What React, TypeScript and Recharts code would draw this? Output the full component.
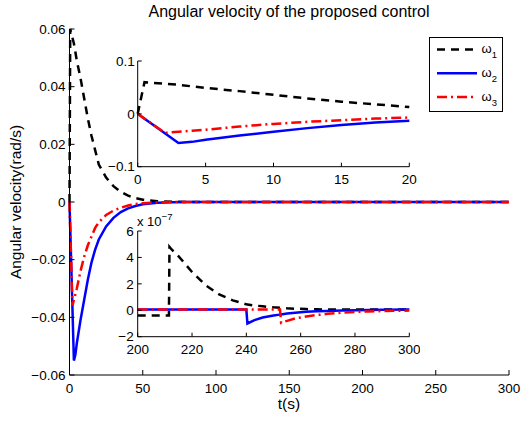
import { LineChart, Line, XAxis, YAxis, Legend, CartesianGrid } from "recharts";

const FONT = "'Liberation Sans', Arial, Helvetica, sans-serif";

// transient part, t in s, omega in rad/s
const tEarly = [0, 0.5, 1, 2, 3, 4, 5, 7.5, 10, 12.5, 15, 17.5, 20, 25, 30, 35, 40, 45, 50, 60, 70, 80, 100];
const w1Early = [0, 0.06, 0.059, 0.057, 0.055, 0.052, 0.049, 0.043, 0.036, 0.029, 0.023, 0.018, 0.013, 0.0085, 0.0055, 0.0035, 0.0022, 0.0014, 0.0008, 0.0003, 0.0001, 0, 0];
const w2Early = [0, -0.0092, -0.0183, -0.0367, -0.055, -0.053, -0.049, -0.041, -0.034, -0.027, -0.021, -0.0165, -0.013, -0.0085, -0.0055, -0.0035, -0.0022, -0.0014, -0.0008, -0.0003, -0.0001, 0, 0];
const w3Early = [0, -0.009, -0.018, -0.036, -0.034, -0.032, -0.03, -0.024, -0.019, -0.015, -0.012, -0.009, -0.007, -0.0045, -0.003, -0.002, -0.0012, -0.0007, -0.0004, -0.0001, 0, 0, 0];

// tail part, values in units of 1e-7 rad/s
const tLate = [200, 211.5, 211.7, 212.5, 215, 220, 225, 230, 235, 240, 240.4, 243, 246, 250, 252.4, 252.8, 255, 258, 262, 266, 270, 275, 280, 285, 290, 300];
const w1Late = [-0.4, -0.4, 4.8, 4.6, 4.1, 2.9, 1.9, 1.2, 0.75, 0.45, 0.44, 0.36, 0.3, 0.22, 0.19, 0.19, 0.15, 0.12, 0.09, 0.07, 0.06, 0.05, 0.05, 0.05, 0.05, 0.05];
const w2Late = [0.05, 0.05, 0.05, 0.05, 0.05, 0.05, 0.05, 0.05, 0.05, 0.05, -1.0, -0.75, -0.55, -0.4, -0.33, -0.32, -0.25, -0.18, -0.11, -0.07, -0.05, -0.02, 0.01, 0.03, 0.04, 0.05];
const w3Late = [0.05, 0.05, 0.05, 0.05, 0.05, 0.05, 0.05, 0.05, 0.05, 0.05, 0.05, 0.05, 0.05, 0.05, 0.05, -0.95, -0.8, -0.62, -0.47, -0.36, -0.27, -0.19, -0.13, -0.09, -0.06, -0.02];
const LATE_SCALE = 1e-7;

const mainXTicks = [0, 50, 100, 150, 200, 250, 300];
const mainYTicks = [-0.06, -0.04, -0.02, 0, 0.02, 0.04, 0.06];
const zoom1XTicks = [0, 5, 10, 15, 20];
const zoom1YTicks = [-0.1, 0, 0.1];
const zoom2XTicks = [200, 220, 240, 260, 280, 300];
const zoom2YTicks = [-2, 0, 2, 4, 6];

const SERIES = [
  { key: "w1", sub: "1", color: "#000000", dash: "8 6" },
  { key: "w2", sub: "2", color: "#0000ff", dash: undefined },
  { key: "w3", sub: "3", color: "#ff0000", dash: "10 4 2 4" },
];

const earlyRows = tEarly.map((t, i) => ({ t, w1: w1Early[i], w2: w2Early[i], w3: w3Early[i] }));
const lateRows = tLate.map((t, i) => ({ t, w1: w1Late[i], w2: w2Late[i], w3: w3Late[i] }));
const mainRows = [
  ...earlyRows,
  ...lateRows.map(r => ({ t: r.t, w1: r.w1 * LATE_SCALE, w2: r.w2 * LATE_SCALE, w3: r.w3 * LATE_SCALE })),
];
const zoom1Rows = earlyRows.filter(r => r.t <= 20);

const fmt = (digits: number) => (v: number) => (v === 0 ? "0" : v.toFixed(digits).replace("-", "\u2212"));
const tickStyle = { fill: "#000", fontSize: 13.5, fontFamily: FONT };

function series() {
  return SERIES.map(s => (
    <Line
      key={s.key}
      dataKey={s.key}
      name={s.key}
      type="linear"
      stroke={s.color}
      strokeWidth={2.5}
      strokeDasharray={s.dash}
      dot={false}
      activeDot={false}
      isAnimationActive={false}
    />
  ));
}

function LegendBox(props: any) {
  const payload = props.payload || [];
  return (
    <div style={{ width: 74, height: 75, border: "1px solid #000", background: "#fff", boxSizing: "border-box" }}>
      <svg width={72} height={73} style={{ display: "block" }}>
        {payload.map((entry: any, i: number) => {
          const s = SERIES.find(x => x.key === entry.dataKey) || SERIES[i];
          const y = 11.5 + i * 23.8;
          return (
            <g key={s.key}>
              <line x1={7} x2={47} y1={y} y2={y} stroke={s.color} strokeWidth={2.5} strokeDasharray={s.dash} />
              <text x={51.5} y={y + 3.5} fontFamily={FONT} fontSize={13} fill="#000">
                ω<tspan dy={5} fontSize={9.5}>{s.sub}</tspan>
              </text>
            </g>
          );
        })}
      </svg>
    </div>
  );
}

export default function App() {
  return (
    <div style={{ position: "absolute", left: 0, top: 0, width: 521, height: 421, background: "#fff", fontFamily: FONT }}>
      <div style={{ position: "absolute", left: 69, width: 440, top: 3, textAlign: "center", fontSize: 16, color: "#000" }}>
        Angular velocity of the proposed control
      </div>
      <div
        style={{
          position: "absolute", left: 16, top: 202, fontSize: 15.5, whiteSpace: "nowrap",
          transform: "translate(-50%, -50%) rotate(-90deg)",
        }}
      >
        Angular velocity(rad/s)
      </div>
      <div style={{ position: "absolute", left: 289, top: 404, transform: "translate(-50%, -50%)", fontSize: 15.5, lineHeight: 1 }}>
        t(s)
      </div>

      <div style={{ position: "absolute", left: 0, top: 0 }}>
        <LineChart width={521} height={421} data={mainRows} margin={{ top: 29, right: 12, bottom: 0, left: 0 }}>
          <XAxis dataKey="t" type="number" domain={[0, 300]} ticks={mainXTicks} interval={0} height={46}
            tickSize={-5} tickMargin={13} stroke="#000" tick={tickStyle} />
          <XAxis xAxisId="top" orientation="top" dataKey="t" type="number" domain={[0, 300]} ticks={mainXTicks}
            interval={0} height={0} tickSize={-5} tick={false} stroke="#000" />
          <YAxis type="number" domain={[-0.06, 0.06]} ticks={mainYTicks} interval={0} width={69.5}
            tickSize={-5} tickMargin={9} stroke="#000" tick={tickStyle} tickFormatter={fmt(2)} />
          <YAxis yAxisId="right" orientation="right" type="number" domain={[-0.06, 0.06]} ticks={mainYTicks}
            interval={0} width={0} tickSize={-5} tick={false} stroke="#000" />
          {series()}
          <Legend layout="vertical" align="center" verticalAlign="middle" content={LegendBox}
            wrapperStyle={{ position: "absolute", left: 429, top: 37, width: 74, height: 75 }} />
        </LineChart>
      </div>

      <div style={{ position: "absolute", left: 90, top: 50 }}>
        <LineChart width={330} height={140} data={zoom1Rows} margin={{ top: 11, right: 10.7, bottom: 0, left: 0 }}>
          <CartesianGrid horizontal={false} vertical={false} fill="#fff" />
          <XAxis dataKey="t" type="number" domain={[0, 20]} ticks={zoom1XTicks} interval={0} height={23.3}
            tickSize={-4} tickMargin={12} stroke="#000" tick={tickStyle} />
          <XAxis xAxisId="top" orientation="top" dataKey="t" type="number" domain={[0, 20]} ticks={zoom1XTicks}
            interval={0} height={0} tickSize={-4} tick={false} stroke="#000" />
          <YAxis type="number" domain={[-0.1, 0.1]} ticks={zoom1YTicks} interval={0} width={47.7}
            tickSize={-4} tickMargin={7} stroke="#000" tick={tickStyle} tickFormatter={fmt(1)} />
          <YAxis yAxisId="right" orientation="right" type="number" domain={[-0.1, 0.1]} ticks={zoom1YTicks}
            interval={0} width={0} tickSize={-4} tick={false} stroke="#000" />
          {series()}
        </LineChart>
      </div>

      <div style={{ position: "absolute", left: 90, top: 215 }}>
        <LineChart width={330} height={145} data={lateRows} margin={{ top: 16, right: 10.7, bottom: 0, left: 0 }}>
          <CartesianGrid horizontal={false} vertical={false} fill="#fff" />
          <XAxis dataKey="t" type="number" domain={[200, 300]} ticks={zoom2XTicks} interval={0} height={23.3}
            tickSize={-4} tickMargin={12} stroke="#000" tick={tickStyle} />
          <XAxis xAxisId="top" orientation="top" dataKey="t" type="number" domain={[200, 300]} ticks={zoom2XTicks}
            interval={0} height={0} tickSize={-4} tick={false} stroke="#000" />
          <YAxis type="number" domain={[-2, 6]} ticks={zoom2YTicks} interval={0} width={47.7}
            tickSize={-4} tickMargin={8} stroke="#000" tick={tickStyle} tickFormatter={fmt(0)} />
          <YAxis yAxisId="right" orientation="right" type="number" domain={[-2, 6]} ticks={zoom2YTicks}
            interval={0} width={0} tickSize={-4} tick={false} stroke="#000" />
          {series()}
        </LineChart>
      </div>
      <div style={{ position: "absolute", left: 137, top: 214, fontSize: 13, whiteSpace: "nowrap" }}>
        x 10<span style={{ fontSize: 9.5, position: "relative", top: -6 }}>{"\u2212"}7</span>
      </div>
    </div>
  );
}
